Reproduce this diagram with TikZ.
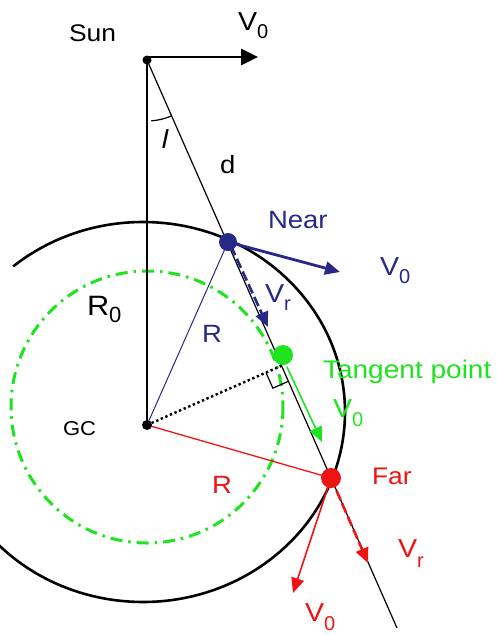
\documentclass[tikz,border=0pt]{standalone}
\usepackage{fontspec}
\setmainfont{Liberation Sans}
\newfontfamily\lab[FakeStretch=1.1]{Liberation Sans}
\usetikzlibrary{arrows.meta,calc}
\definecolor{nblue}{RGB}{40,40,135}
\definecolor{ngreen}{RGB}{30,228,30}
\definecolor{nred}{RGB}{238,20,20}
\newcommand\tsz[1]{\fontsize{#1}{#1}\selectfont}
\newcommand\subx[3]{\raisebox{-#1pt}{\rmfamily\fontsize{#2}{#2}\selectfont #3}}
\tikzset{
  lbl/.style={anchor=base west, inner sep=0pt, outer sep=0pt},
  headtip/.style={-{Triangle[length=15pt,width=13pt]}},
  dashvec/.style={line width=2.6, dash pattern=on 10pt off 4pt, headtip},
}
\begin{document}
\begin{tikzpicture}[x=1pt,y=-1pt]
\useasboundingbox (0,0) rectangle (497,635);
\coordinate (sun) at (147,60);
\coordinate (gc) at (147,425);
\coordinate (los) at (397,628);
\coordinate (near) at (228,242);
\coordinate (far) at (331,478);
\coordinate (tp) at (283,355);
\coordinate (ec) at (143,412);
\coordinate (foot) at ($(sun)!(gc)!(los)$);
\coordinate (sunv) at (258,57);
\coordinate (nearv) at (340,272);
\coordinate (nearvr) at (268,327);
\coordinate (tps) at (287,367);
\coordinate (tpv) at (322,442);
\coordinate (farv) at (293,593);
\coordinate (farvr) at (368,563);

% galaxy circles
\draw[ngreen, line width=3, dash pattern=on 12pt off 6pt on 2.5pt off 6pt] (147,407) circle[radius=136];
\draw[line width=2.6] ([shift={(-130:202 and 190)}]ec) arc[start angle=-130,end angle=137,x radius=202,y radius=190];

% main lines
\draw[line width=1.2] (sun) -- (los);
\draw[line width=1.4] (sun) -- (gc);
\draw[line width=2.4, dash pattern=on 2.4pt off 2.6pt] (gc) -- (foot);
\coordinate (ra) at ($(foot)!17pt!(gc)$);
\coordinate (rb) at ($(foot)!17pt!(los)$);
\draw[line width=1.2] (ra) -- ($(ra)+(rb)-(foot)$) -- (rb);

% angle l
\draw[line width=1.2] ([shift={(66:61)}]sun) arc[start angle=66,end angle=86,radius=61];

% radii
\draw[nblue, line width=1] (gc) -- (near);
\draw[nred, line width=1.3] (gc) -- (far);

% velocity vectors
\draw[line width=2.7, -{Triangle[length=17pt,width=16pt]}] ($(sun)+(0,-3)$) -- (sunv);
\draw[nblue, line width=2.8, headtip] (near) -- (nearv);
\draw[nblue, dashvec] ($(near)+(3,4)$) -- (nearvr);
\draw[ngreen, line width=1.6, headtip] (tps) -- (tpv);
\draw[nred, line width=1.6, headtip] (far) -- (farv);
\draw[nred, dashvec] (far) -- (farvr);

% dots
\fill (sun) circle[radius=4.5];
\fill (gc) circle[radius=5];
\fill[nblue] (near) circle[radius=9];
\fill[ngreen] (tp) circle[radius=10];
\fill[nred] (far) circle[radius=10];

% labels
\node[lbl, font=\lab\tsz{24}] (sunlbl) at (69,41) {Sun};
\node[lbl, font=\lab\tsz{26}] (sunvl) at (238,30) {V\subx{8}{20}{0}};
\node[anchor=base, inner sep=0pt, font=\lab\itshape\tsz{26}] (angl) at (165,148) {l};
\node[lbl, font=\lab\tsz{25}] (dl) at (220,173) {d};
\node[lbl, font=\lab\tsz{25}, text=nblue] (nearl) at (268,228) {Near};
\node[lbl, font=\lab\tsz{26}, text=nblue] (nearvl) at (380,275) {V\subx{8}{20}{0}};
\node[lbl, font=\lab\tsz{26}, text=nblue] (nearvrl) at (265,302) {V\subx{8}{20}{r}};
\node[lbl, font=\lab\tsz{25}, text=nblue] (rbl) at (202,342) {R};
\node[lbl, font=\lab\tsz{28}] (r0l) at (87,315) {R\subx{7}{22}{0}};
\node[lbl, font=\lab\tsz{20}] (gcl) at (63,435) {GC};
\node[lbl, font=\lab\tsz{25.5}, text=ngreen] (tpl) at (323,378) {Tangent point};
\node[lbl, font=\lab\tsz{26}, text=ngreen] (tpvl) at (333,417) {V\subx{9}{20}{0}};
\node[lbl, font=\lab\tsz{24}, text=nred] (farl) at (372,484) {Far};
\node[lbl, font=\lab\tsz{25}, text=nred] (rrl) at (212,493) {R};
\node[lbl, font=\lab\tsz{26}, text=nred] (farvrl) at (398,557) {V\subx{10}{20}{r}};
\node[lbl, font=\lab\tsz{26}, text=nred] (farvl) at (305,621) {V\subx{9}{20}{0}};
\end{tikzpicture}
\end{document}
